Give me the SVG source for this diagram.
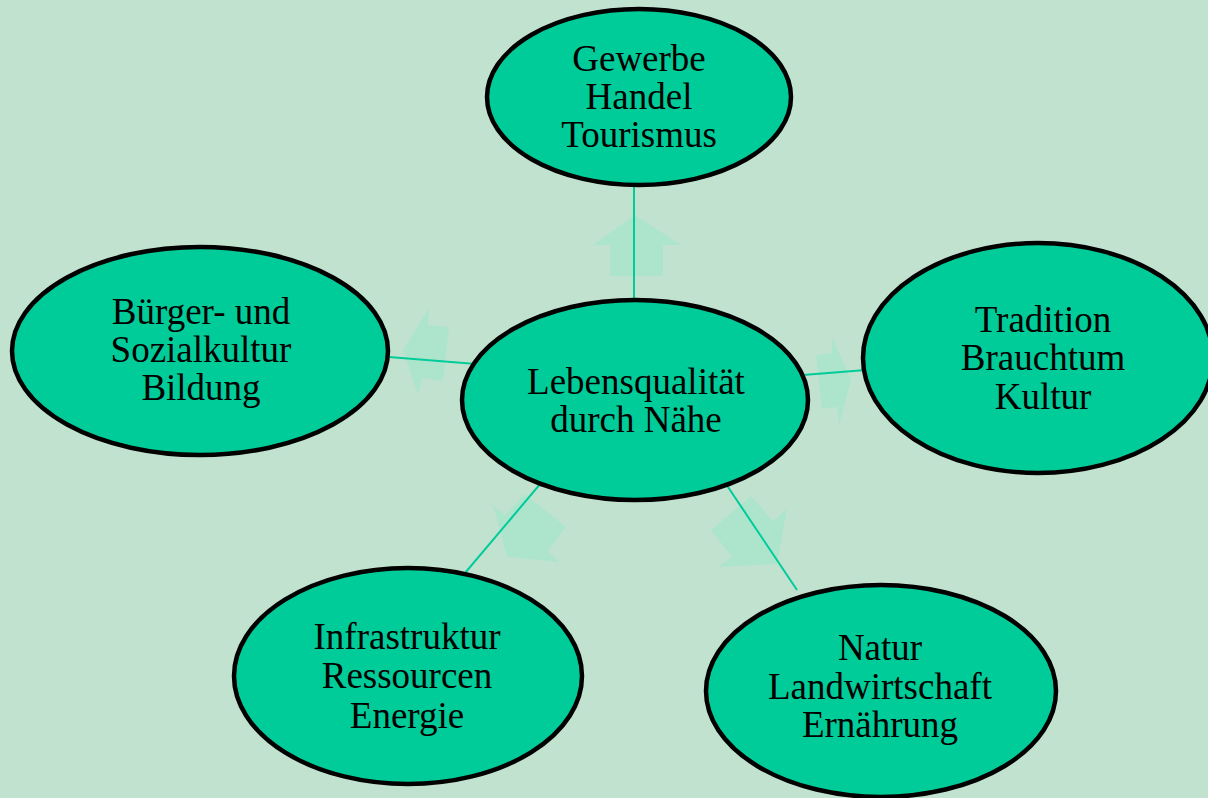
<svg xmlns="http://www.w3.org/2000/svg" width="1208" height="798" viewBox="0 0 1208 798">
<style>
.bg{fill:#C2E2D0}
.node ellipse{fill:#00CC99;stroke:#000;stroke-width:4.5}
.node text{font-family:"Liberation Serif","Times New Roman",serif;font-size:37px;fill:#000;text-anchor:middle}
.arr{fill:#ADE5CC}
.conn line{stroke:#00CC99;stroke-width:2}
</style>
<rect class="bg" x="0" y="0" width="1208" height="798"/>
<g id="arrows">
<polygon class="arr" points="635,215 681,245 663,245 663,276 610,276 610,245 593,245"/>
<polygon class="arr" points="403,350 429,308 428,325 449,327 443,381 422,378 418,395"/>
<polygon class="arr" points="851,380 832,337 832,353 816,355 822,409 837,407 839,425"/>
<polygon class="arr" points="507,557 493,505 505,515 525,494 566,527 548,551 559,562"/>
<polygon class="arr" points="777,564 718,567 732,557 711,530 751,496 773,521 787,509"/>
</g>
<g id="connectors" class="conn">
<line x1="634" y1="186" x2="634" y2="300"/>
<line x1="389" y1="357" x2="476" y2="364"/>
<line x1="803" y1="375" x2="866" y2="370"/>
<line x1="541" y1="483" x2="465" y2="573"/>
<line x1="726" y1="484" x2="797" y2="590"/>
</g>
<g id="node-top" class="node">
<ellipse cx="639" cy="97" rx="152" ry="88"/>
<text x="639" y="71">Gewerbe</text>
<text x="639" y="109">Handel</text>
<text x="639" y="147">Tourismus</text>
</g>
<g id="node-left" class="node">
<ellipse cx="200" cy="351" rx="188" ry="104"/>
<text x="201" y="324">Bürger- und</text>
<text x="201" y="362">Sozialkultur</text>
<text x="201" y="400">Bildung</text>
</g>
<g id="node-center" class="node">
<ellipse cx="635" cy="400" rx="173" ry="100"/>
<text x="636" y="394">Lebensqualität</text>
<text x="636" y="432">durch Nähe</text>
</g>
<g id="node-right" class="node">
<ellipse cx="1038" cy="358" rx="175" ry="115"/>
<text x="1043" y="332">Tradition</text>
<text x="1043" y="370">Brauchtum</text>
<text x="1043" y="409">Kultur</text>
</g>
<g id="node-bottomleft" class="node">
<ellipse cx="408" cy="676" rx="174" ry="108"/>
<text x="407" y="649">Infrastruktur</text>
<text x="407" y="688">Ressourcen</text>
<text x="407" y="728">Energie</text>
</g>
<g id="node-bottomright" class="node">
<ellipse cx="881" cy="691" rx="175" ry="106"/>
<text x="880" y="660">Natur</text>
<text x="880" y="699">Landwirtschaft</text>
<text x="880" y="737">Ernährung</text>
</g>
</svg>
